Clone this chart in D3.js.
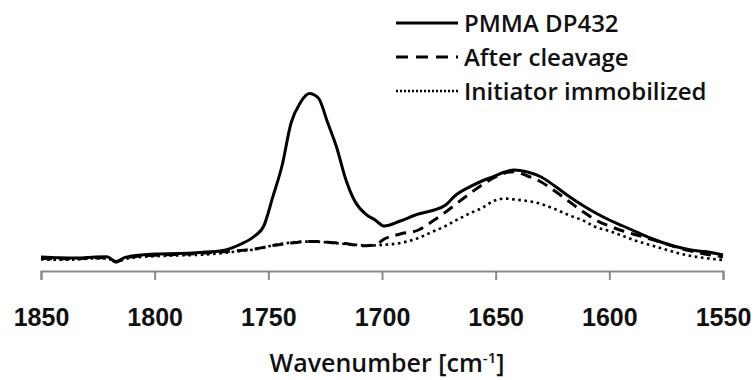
<!DOCTYPE html>
<html>
<head>
<meta charset="utf-8">
<script src="https://cdn.jsdelivr.net/npm/d3@7"></script>
<style>
  body { margin: 0; background: #fff; }
  svg { display: block; font-family: "Open Sans", "Noto Sans", sans-serif; }
  .tick-label { font-size: 25px; font-weight: 600; fill: #111; }
  .legend-text { font-size: 24px; font-weight: 600; fill: #111; }
</style>
</head>
<body>
<svg id="chart"></svg>
<script>
// wavenumber grid (cm-1) and absorbance (arbitrary units)
const wavenumbers = [1850, 1842, 1834, 1826, 1821, 1817, 1813, 1806, 1798, 1790, 1780, 1770, 1762, 1756, 1752, 1748, 1744, 1740, 1736, 1732, 1728, 1724, 1720, 1716, 1712, 1707, 1703, 1699, 1692, 1684, 1677, 1672, 1668, 1661, 1656, 1651, 1646, 1642, 1636, 1630, 1624, 1618, 1612, 1606, 1600, 1594, 1588, 1582, 1576, 1570, 1564, 1558, 1550];

const pmma = [0.070, 0.066, 0.065, 0.070, 0.071, 0.048, 0.068, 0.080, 0.085, 0.087, 0.093, 0.103, 0.135, 0.175, 0.225, 0.372, 0.525, 0.740, 0.840, 0.887, 0.865, 0.745, 0.620, 0.460, 0.350, 0.283, 0.255, 0.225, 0.250, 0.285, 0.305, 0.330, 0.375, 0.423, 0.450, 0.472, 0.495, 0.505, 0.495, 0.470, 0.425, 0.375, 0.330, 0.290, 0.255, 0.225, 0.195, 0.165, 0.140, 0.120, 0.105, 0.097, 0.080];

const cleaved = [0.064, 0.061, 0.062, 0.066, 0.066, 0.045, 0.064, 0.075, 0.080, 0.083, 0.088, 0.096, 0.103, 0.110, 0.118, 0.127, 0.134, 0.140, 0.145, 0.148, 0.147, 0.144, 0.141, 0.137, 0.130, 0.126, 0.130, 0.160, 0.185, 0.205, 0.255, 0.295, 0.330, 0.390, 0.430, 0.465, 0.490, 0.496, 0.475, 0.445, 0.400, 0.350, 0.300, 0.255, 0.225, 0.200, 0.180, 0.160, 0.140, 0.117, 0.100, 0.085, 0.071];

const initiator = [0.058, 0.056, 0.058, 0.063, 0.063, 0.045, 0.060, 0.070, 0.075, 0.078, 0.081, 0.090, 0.100, 0.108, 0.117, 0.128, 0.136, 0.142, 0.146, 0.147, 0.146, 0.143, 0.139, 0.135, 0.131, 0.128, 0.128, 0.131, 0.140, 0.165, 0.200, 0.225, 0.250, 0.290, 0.315, 0.350, 0.362, 0.358, 0.350, 0.335, 0.310, 0.280, 0.255, 0.220, 0.200, 0.175, 0.150, 0.130, 0.110, 0.090, 0.075, 0.065, 0.055];

const xTicks = [1850, 1800, 1750, 1700, 1650, 1600, 1550];
const seriesNames = ["PMMA DP432", "After cleavage", "Initiator immobilized"];

const width = 756, height = 380;
const margin = {top: 71, right: 33, bottom: 109, left: 41};

const svg = d3.select("#chart")
    .attr("width", width)
    .attr("height", height);

svg.append("rect").attr("width", width).attr("height", height).attr("fill", "#fff");

const xScale = d3.scaleLinear()
    .domain([1850, 1550])
    .range([margin.left, width - margin.right]);

const yScale = d3.scaleLinear()
    .domain([0, 1])
    .range([height - margin.bottom, margin.top]);

// x axis: grey line with ticks hanging down, labels further below
const xAxis = d3.axisBottom(xScale)
    .tickValues(xTicks)
    .tickSize(9)
    .tickPadding(28)
    .tickFormat(d3.format("d"));

const xAxisG = svg.append("g")
    .attr("transform", `translate(0,${height - margin.bottom})`)
    .call(xAxis);

xAxisG.select(".domain").attr("stroke", "#8a8a8a").attr("stroke-width", 2);
xAxisG.selectAll(".tick line").attr("stroke", "#8a8a8a").attr("stroke-width", 2);
xAxisG.selectAll(".tick text")
    .attr("class", "tick-label")
    .attr("font-family", null)
    .attr("font-size", null);

// axis title
const title = svg.append("text")
    .attr("class", "tick-label")
    .attr("x", 387)
    .attr("y", 372)
    .attr("text-anchor", "middle");
title.append("tspan").text("Wavenumber [cm");
title.append("tspan").attr("font-size", 15).attr("dy", -9).text("-1");
title.append("tspan").attr("dy", 9).text("]");

const styles = [
    {width: 3, dash: null},
    {width: 3, dash: "11,7"},
    {width: 2.6, dash: "2.6,3.6"}
];
const allSeries = [pmma, cleaved, initiator];

const line = d3.line()
    .x(d => xScale(d[0]))
    .y(d => yScale(d[1]))
    .curve(d3.curveMonotoneX);

// draw initiator first so the solid ends on top
[2, 1, 0].forEach(i => {
    svg.append("path")
        .datum(wavenumbers.map((w, j) => [w, allSeries[i][j]]))
        .attr("fill", "none")
        .attr("stroke", "#000")
        .attr("stroke-width", styles[i].width)
        .attr("stroke-dasharray", styles[i].dash)
        .attr("stroke-linejoin", "round")
        .attr("d", line);
});

// legend
const legendY = [23, 57, 91];
const legend = svg.append("g");
seriesNames.forEach((name, i) => {
    legend.append("line")
        .attr("x1", 396).attr("x2", 458)
        .attr("y1", legendY[i]).attr("y2", legendY[i])
        .attr("stroke", "#000")
        .attr("stroke-width", i === 2 ? 2.4 : 3)
        .attr("stroke-dasharray", i === 0 ? null : (i === 1 ? "12,8" : "2,2"));
    legend.append("text")
        .attr("class", "legend-text")
        .attr("x", 464)
        .attr("y", legendY[i] + 8.5)
        .text(name);
});
</script>
</body>
</html>
